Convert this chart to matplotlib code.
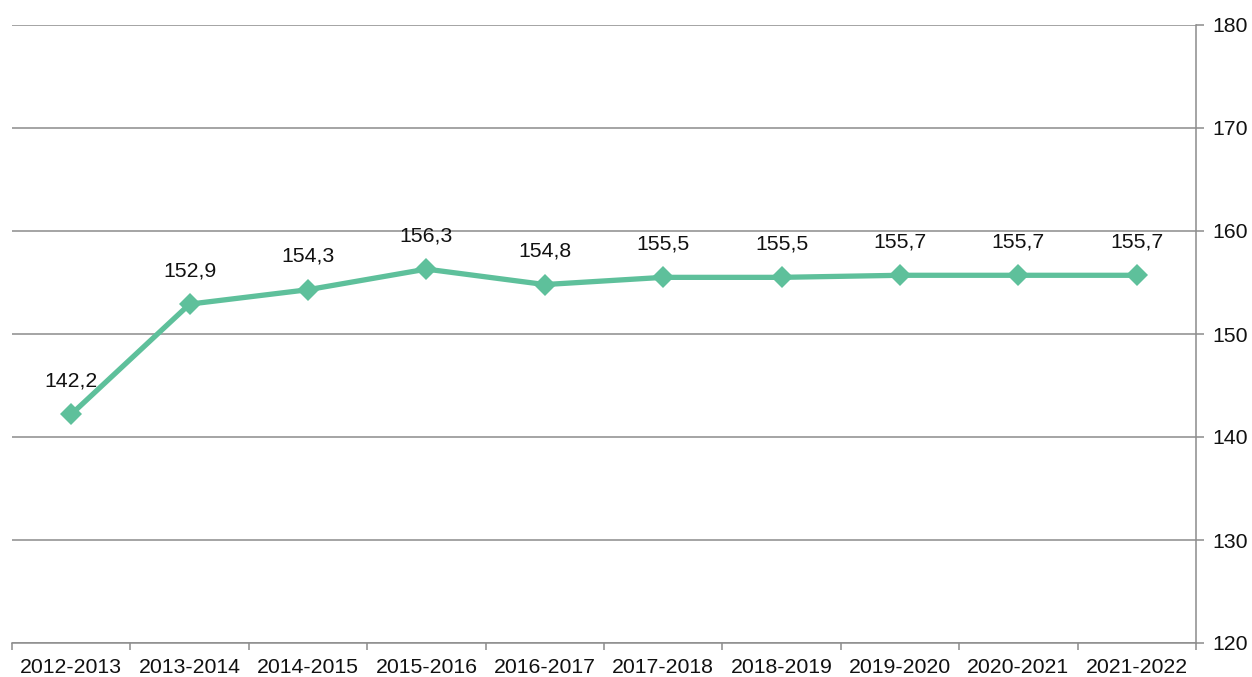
import matplotlib
matplotlib.use("Agg")
import matplotlib.pyplot as plt
import numpy as np

plt.rcParams["font.family"] = ["Liberation Sans", "DejaVu Sans"]

seasons = ["2012-2013", "2013-2014", "2014-2015", "2015-2016", "2016-2017",
           "2017-2018", "2018-2019", "2019-2020", "2020-2021", "2021-2022"]
values = [142.2, 152.9, 154.3, 156.3, 154.8, 155.5, 155.5, 155.7, 155.7, 155.7]
y_ticks = [120, 130, 140, 150, 160, 170, 180]

LINE = "#5EC09B"
GRID = "#8C8C8C"
FS = 15.3

fig = plt.figure(figsize=(12.52, 6.77), dpi=100)
ax = fig.add_axes([12 / 1252, 1 - 643 / 677, 1184 / 1252, 618 / 677])

x = np.arange(len(seasons))
ax.plot(x, values, color=LINE, linewidth=3.8, marker="D", markersize=11,
        markeredgewidth=0, zorder=5, clip_on=False)

for xi, v in zip(x, values):
    ax.annotate(f"{v:.1f}".replace(".", ","), (xi, v), xytext=(0, 24),
                textcoords="offset points", ha="center", va="center",
                fontsize=FS, color="#111111")

ax.set_xlim(-0.5, len(seasons) - 0.5)
ax.set_ylim(120, 180)

# gridlines
ax.set_yticks(y_ticks)
ax.grid(axis="y", color=GRID, linewidth=1.1, zorder=0)
ax.set_axisbelow(True)

# right y-axis
ax.yaxis.tick_right()
ax.tick_params(axis="y", direction="out", length=6, width=1.1, color=GRID,
               labelsize=FS, pad=6, labelcolor="#111111")

# category axis: ticks at boundaries, labels at centers
ax.set_xticks(np.arange(len(seasons) + 1) - 0.5)
ax.set_xticklabels([])
ax.set_xticks(x, minor=True)
ax.set_xticklabels(seasons, minor=True)
ax.tick_params(axis="x", which="major", direction="out", length=5, width=1.1,
               color=GRID)
ax.tick_params(axis="x", which="minor", length=0, labelsize=FS, pad=11,
               labelcolor="#111111")

for side in ["left", "top"]:
    ax.spines[side].set_visible(False)
for side in ["right", "bottom"]:
    ax.spines[side].set_color(GRID)
    ax.spines[side].set_linewidth(1.1)

fig.savefig("out.png", dpi=100)
